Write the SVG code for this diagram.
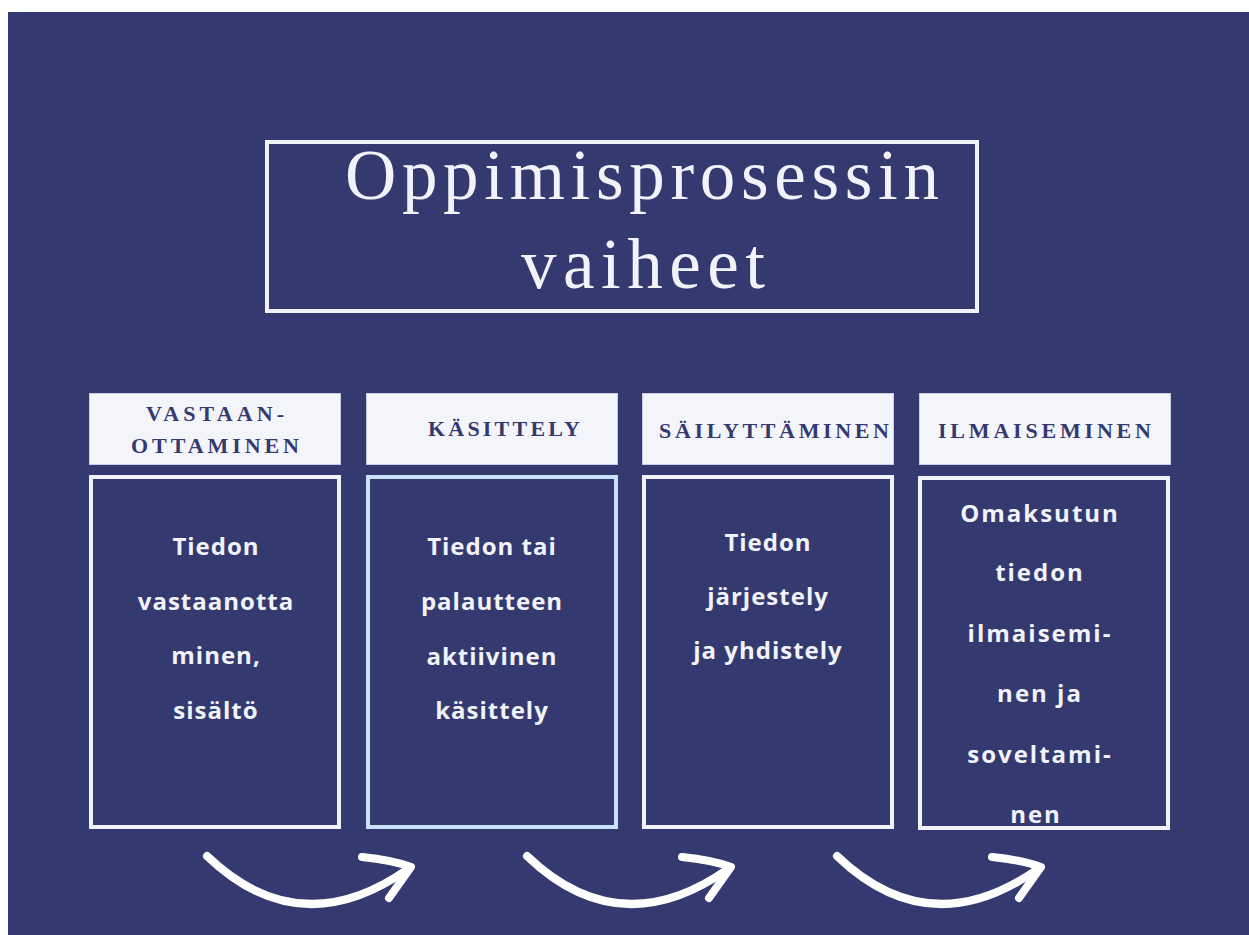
<svg xmlns="http://www.w3.org/2000/svg" width="1249" height="935" viewBox="0 0 1249 935">
<style>
.bg{fill:#343a6f}
.titlebox{fill:none;stroke:#f2f3fa;stroke-width:4}
.title{font-family:"Liberation Serif","DejaVu Serif",serif;font-size:71px;fill:#f2f3fa}
.hbox{fill:#f4f5fb;stroke:#c9cbe0;stroke-width:1}
.htext{font-family:"Liberation Serif","DejaVu Serif",serif;font-weight:bold;font-size:22px;fill:#343a6f}
.bbox{fill:none;stroke:#f2f3fa;stroke-width:4}
.bbox2{fill:none;stroke:#c8e3f8;stroke-width:4}
.btext{font-family:"Open Sans","Liberation Sans",sans-serif;font-weight:bold;font-size:24px;letter-spacing:1px;fill:#f2f3fa;text-anchor:middle}
.wide{letter-spacing:2px}
.arrow{fill:none;stroke:#ffffff;stroke-width:8;stroke-linecap:round;stroke-linejoin:round}
</style>
<rect x="0" y="0" width="1249" height="935" fill="#ffffff"/>
<rect class="bg" x="8" y="12" width="1241" height="923"/>

<g id="title">
<rect class="titlebox" x="267" y="142" width="710" height="169"/>
<text class="title" x="345" y="199" textLength="594" lengthAdjust="spacing">Oppimisprosessin</text>
<text class="title" x="521" y="288" textLength="244" lengthAdjust="spacing">vaiheet</text>
</g>

<g id="h1">
<rect class="hbox" x="89.5" y="393.5" width="251" height="71"/>
<text class="htext" x="146" y="421" textLength="138" lengthAdjust="spacing">VASTAAN-</text>
<text class="htext" x="131" y="453" textLength="168" lengthAdjust="spacing">OTTAMINEN</text>
</g>
<g id="h2">
<rect class="hbox" x="366.5" y="393.5" width="251" height="71"/>
<text class="htext" x="428" y="436" textLength="152" lengthAdjust="spacing">KÄSITTELY</text>
</g>
<g id="h3">
<rect class="hbox" x="642.5" y="393.5" width="251" height="71"/>
<text class="htext" x="659" y="438" textLength="230" lengthAdjust="spacing">SÄILYTTÄMINEN</text>
</g>
<g id="h4">
<rect class="hbox" x="919.5" y="393.5" width="251" height="71"/>
<text class="htext" x="938" y="438" textLength="213" lengthAdjust="spacing">ILMAISEMINEN</text>
</g>

<g id="b1">
<rect class="bbox" x="91" y="477" width="248" height="350"/>
<text class="btext" x="216" y="555">Tiedon</text>
<text class="btext" x="216" y="610">vastaanotta</text>
<text class="btext" x="216" y="664">minen,</text>
<text class="btext" x="216" y="719">sisältö</text>
</g>
<g id="b2">
<rect class="bbox2" x="368" y="477" width="248" height="350"/>
<text class="btext" x="492" y="555">Tiedon tai</text>
<text class="btext" x="492" y="610">palautteen</text>
<text class="btext" x="492" y="665">aktiivinen</text>
<text class="btext" x="492" y="719">käsittely</text>
</g>
<g id="b3">
<rect class="bbox" x="644" y="477" width="248" height="350"/>
<text class="btext" x="768" y="551">Tiedon</text>
<text class="btext" x="768" y="605">järjestely</text>
<text class="btext" x="768" y="659">ja yhdistely</text>
</g>
<g id="b4">
<rect class="bbox" x="920" y="478" width="248" height="350"/>
<text class="btext wide" x="1040" y="522">Omaksutun</text>
<text class="btext wide" x="1040" y="581">tiedon</text>
<text class="btext wide" x="1040" y="642">ilmaisemi-</text>
<text class="btext wide" x="1040" y="702">nen ja</text>
<text class="btext wide" x="1040" y="763">soveltami-</text>
<text class="btext wide" x="1036" y="823">nen</text>
</g>

<g id="connectors">
<g id="a1">
<path class="arrow" d="M207,856 Q300,945 408,869"/>
<path class="arrow" d="M362,857 Q392,860 411,867 L389,898"/>
</g>
<g id="a2" transform="translate(320,0)">
<path class="arrow" d="M207,856 Q300,945 408,869"/>
<path class="arrow" d="M362,857 Q392,860 411,867 L389,898"/>
</g>
<g id="a3" transform="translate(630,0)">
<path class="arrow" d="M207,856 Q300,945 408,869"/>
<path class="arrow" d="M362,857 Q392,860 411,867 L389,898"/>
</g>
</g>
</svg>
